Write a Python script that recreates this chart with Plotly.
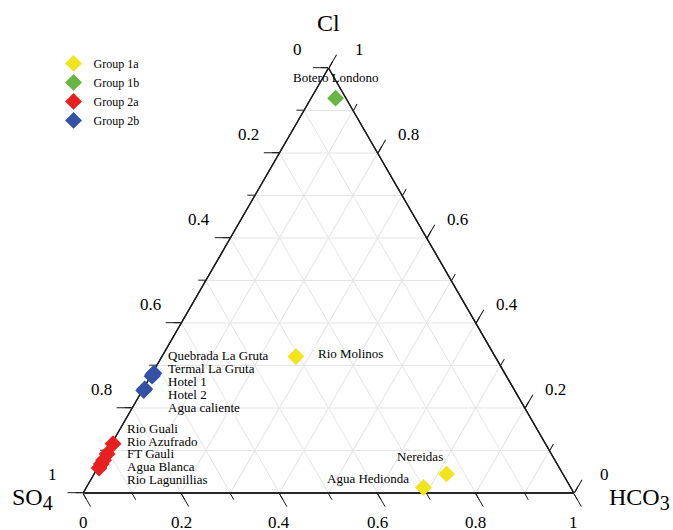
import math
import plotly.graph_objects as go

# Relative anion composition of each water sample (fractions of Cl + SO4 + HCO3)
sample_names = [
    "Rio Molinos", "Nereidas", "Agua Hedionda",
    "Botero Londono",
    "Rio Guali", "Rio Azufrado", "FT Gauli", "Agua Blanca", "Rio Lagunillias",
    "Quebrada La Gruta", "Termal La Gruta", "Hotel 1", "Hotel 2", "Agua caliente",
]
sample_groups = [
    "Group 1a", "Group 1a", "Group 1a",
    "Group 1b",
    "Group 2a", "Group 2a", "Group 2a", "Group 2a", "Group 2a",
    "Group 2b", "Group 2b", "Group 2b", "Group 2b", "Group 2b",
]
cl = [0.321, 0.045, 0.013, 0.929, 0.116, 0.092, 0.077, 0.068, 0.059,
      0.282, 0.278, 0.275, 0.245, 0.241]
so4 = [0.406, 0.237, 0.300, 0.021, 0.881, 0.905, 0.920, 0.929, 0.938,
       0.715, 0.719, 0.722, 0.752, 0.756]
hco3 = [0.273, 0.718, 0.687, 0.050, 0.003, 0.003, 0.003, 0.003, 0.003,
        0.003, 0.003, 0.003, 0.003, 0.003]

group_order = ["Group 1a", "Group 1b", "Group 2a", "Group 2b"]
group_colors = {"Group 1a": "#f2e41c", "Group 1b": "#68b444",
                "Group 2a": "#e6201f", "Group 2b": "#3352a6"}

tick_values = [0, 0.2, 0.4, 0.6, 0.8, 1.0]
tick_labels = ["0", "0.2", "0.4", "0.6", "0.8", "1"]

# Page geometry
FIG_W, FIG_H = 673, 530
MARGIN = dict(l=83, r=99, t=68, b=37)
PLOT_W = FIG_W - MARGIN["l"] - MARGIN["r"]
PLOT_H = FIG_H - MARGIN["t"] - MARGIN["b"]

SERIF = "Liberation Serif"
INK = "#1a1a1a"


def paper_xy(a, b, c):
    """Paper coordinates of a ternary point (a at top, b bottom-left, c bottom-right)."""
    s = a + b + c
    a, c = a / s, c / s
    tri_h = min(PLOT_H, PLOT_W * math.sqrt(3) / 2)
    tri_w = tri_h * 2 / math.sqrt(3)
    x0 = (PLOT_W - tri_w) / 2
    y0 = (PLOT_H - tri_h) / 2
    return (x0 + tri_w * (c + a / 2)) / PLOT_W, (y0 + tri_h * a) / PLOT_H


fig = go.Figure()

# Empty trace so the grid / minor-tick ternary gets drawn underneath
fig.add_trace(go.Scatterternary(subplot="ternary", a=[], b=[], c=[],
                                mode="markers", showlegend=False,
                                hoverinfo="skip"))

for g in group_order:
    idx = [i for i, grp in enumerate(sample_groups) if grp == g]
    fig.add_trace(go.Scatterternary(
        subplot="ternary2",
        a=[cl[i] for i in idx],
        b=[so4[i] for i in idx],
        c=[hco3[i] for i in idx],
        text=[sample_names[i] for i in idx],
        mode="markers",
        name=g,
        cliponaxis=False,
        marker=dict(symbol="diamond", size=13, color=group_colors[g],
                    line=dict(width=0)),
    ))


def axis_style(long_ticks):
    base = dict(min=0, linecolor=INK, linewidth=1.3, tickcolor=INK,
                tickwidth=1.2, ticks="outside", title=dict(text=""),
                showticklabels=False, layer="below traces")
    if long_ticks:
        base.update(showgrid=False, ticklen=15, tickmode="array",
                    tickvals=tick_values)
    else:
        base.update(showgrid=True, gridcolor="#e4e4e4", gridwidth=1,
                    ticklen=7, tickmode="linear", tick0=0, dtick=0.1)
    return base


dom = dict(x=[0, 1], y=[0, 1])
layout_ternary = dict(sum=1, domain=dom, bgcolor="white",
                      aaxis=axis_style(False), baxis=axis_style(False),
                      caxis=axis_style(False))
layout_ternary2 = dict(sum=1, domain=dom, bgcolor="rgba(0,0,0,0)",
                       aaxis=axis_style(True), baxis=axis_style(True),
                       caxis=axis_style(True))

annotations = []

# Tick labels: SO4 down the left edge, Cl up the right edge, HCO3 along the bottom
tick_font = dict(family=SERIF, size=17, color="black")
for t, lab in zip(tick_values, tick_labels):
    for (pa, pb, pc), dx, dy in (
        ((1 - t, t, 0), -31, 19),   # SO4 fraction on the left edge
        ((t, 0, 1 - t), 31, 19),    # Cl fraction on the right edge
        ((0, 1 - t, t), 0, -29),    # HCO3 fraction on the bottom edge
    ):
        x, y = paper_xy(pa, pb, pc)
        annotations.append(dict(x=x, y=y, xref="paper", yref="paper",
                                text=lab, showarrow=False, xanchor="center",
                                yanchor="middle", xshift=dx, yshift=dy,
                                font=tick_font))

label_font = dict(family=SERIF, size=13, color="black")

# Individually placed sample labels: (anchor, x shift, y shift) in pixels
single_labels = {
    "Botero Londono": ("center", 0, 21),
    "Rio Molinos": ("left", 20, 3.5),
    "Nereidas": ("right", -2, 17.5),
    "Agua Hedionda": ("right", -12, 8.5),
}
for name, (anchor, dx, dy) in single_labels.items():
    i = sample_names.index(name)
    x, y = paper_xy(cl[i], so4[i], hco3[i])
    annotations.append(dict(x=x, y=y, xref="paper", yref="paper", text=name,
                            showarrow=False, xanchor=anchor, yanchor="middle",
                            xshift=dx, yshift=dy, font=label_font))

# Stacked label lists next to the clustered groups: (x shift, first y shift, line step)
block_labels = {"Group 2a": (12, 15.4, 12.75), "Group 2b": (12, 17.5, 13.0)}
for g, (dx, dy0, step) in block_labels.items():
    idx = [i for i, grp in enumerate(sample_groups) if grp == g]
    x, y = paper_xy(cl[idx[0]], so4[idx[0]], hco3[idx[0]])
    for k, i in enumerate(idx):
        annotations.append(dict(x=x, y=y, xref="paper", yref="paper",
                                text=sample_names[i], showarrow=False,
                                xanchor="left", yanchor="middle",
                                xshift=dx, yshift=dy0 - k * step,
                                font=label_font))

# Corner titles
title_font = dict(family=SERIF, size=24, color="black")
ax, ay = paper_xy(1, 0, 0)
bx, by = paper_xy(0, 1, 0)
cx, cy = paper_xy(0, 0, 1)
annotations += [
    dict(x=ax, y=ay, xref="paper", yref="paper", text="Cl", showarrow=False,
         xanchor="center", yanchor="middle", yshift=45, font=title_font),
    dict(x=bx, y=by, xref="paper", yref="paper",
         text="SO<sub><span style='font-size:20px'>4</span></sub>",
         showarrow=False, xanchor="right", yanchor="middle",
         xshift=-28, yshift=-6, font=title_font),
    dict(x=cx, y=cy, xref="paper", yref="paper",
         text="HCO<sub><span style='font-size:20px'>3</span></sub>",
         showarrow=False, xanchor="left", yanchor="middle",
         xshift=33, yshift=-6, font=title_font),
]

fig.update_layout(
    width=FIG_W, height=FIG_H,
    margin=MARGIN,
    paper_bgcolor="white",
    ternary=layout_ternary,
    ternary2=layout_ternary2,
    annotations=annotations,
    showlegend=True,
    legend=dict(x=-0.06, y=1.045, xanchor="left", yanchor="top",
                bgcolor="rgba(0,0,0,0)", tracegroupgap=0,
                font=dict(family=SERIF, size=12, color="black"),
                itemclick=False, itemdoubleclick=False),
    font=dict(family=SERIF),
)

fig.write_html("out.html")
